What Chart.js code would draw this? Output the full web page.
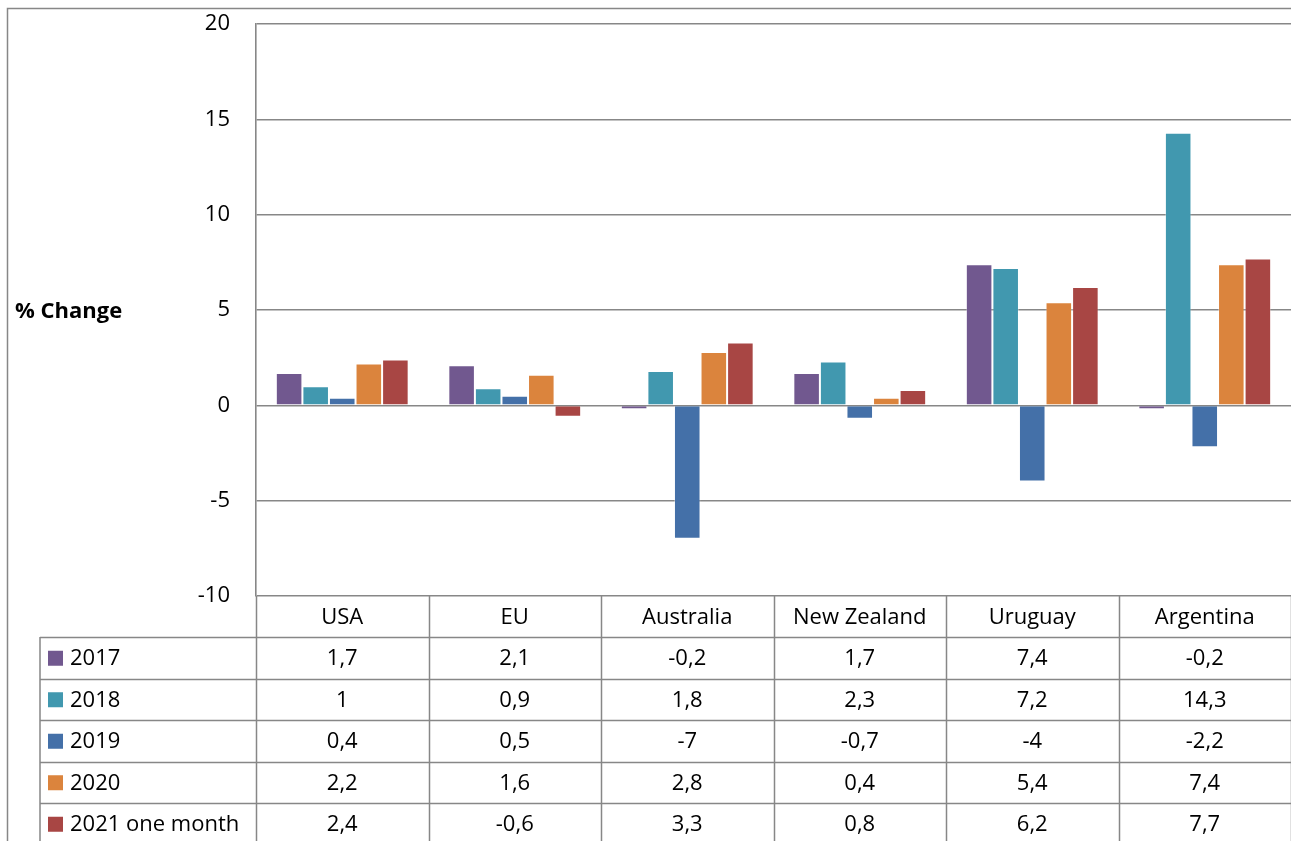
<!DOCTYPE html>
<html>
<head>
<meta charset="utf-8">
<script src="https://cdn.jsdelivr.net/npm/chart.js@4"></script>
<style>
    html, body { margin: 0; padding: 0; background: #fff; }
    #wrap { width: 1291px; height: 841px; overflow: hidden; }
</style>
</head>
<body>
<div id="wrap"><canvas id="chart" width="1291" height="841"></canvas></div>
<script>
// chart data
const categories = ['USA', 'EU', 'Australia', 'New Zealand', 'Uruguay', 'Argentina'];
const seriesNames = ['2017', '2018', '2019', '2020', '2021 one month'];
const values2017 = [1.7, 2.1, -0.2, 1.7, 7.4, -0.2];
const values2018 = [1, 0.9, 1.8, 2.3, 7.2, 14.3];
const values2019 = [0.4, 0.5, -7, -0.7, -4, -2.2];
const values2020 = [2.2, 1.6, 2.8, 0.4, 5.4, 7.4];
const values2021 = [2.4, -0.6, 3.3, 0.8, 6.2, 7.7];
const yTicks = [-10, -5, 0, 5, 10, 15, 20];

const seriesValues = [values2017, values2018, values2019, values2020, values2021];
const seriesColors = ['#71588f', '#4198af', '#4470a8', '#db843d', '#a84644'];

const FONT = '"Open Sans", "Noto Sans", sans-serif';
const FSIZE = 22;
const GRID = '#878787';

// format like the source (decimal comma)
function fmt(v) {
    return String(v).replace('.', ',');
}

// data table + outer frame drawn around the chart
const tablePlugin = {
    id: 'dataTable',
    beforeDraw(c) {
        const ctx = c.ctx;
        ctx.save();
        ctx.fillStyle = '#fff';
        ctx.fillRect(0, 0, c.width, c.height);
        ctx.strokeStyle = GRID;
        ctx.lineWidth = 1.5;
        ctx.strokeRect(7.5, 8.5, c.width + 20, c.height + 20);
        ctx.restore();
    },
    afterDraw(c) {
        const ctx = c.ctx;
        const area = c.chartArea;
        const x = c.scales.x;
        const catW = (area.right - area.left) / categories.length;
        const headTop = area.bottom;
        const rowTop = headTop + 41;
        const rowH = 41.5;
        const tableLeft = 40;

        ctx.save();
        ctx.strokeStyle = GRID;
        ctx.lineWidth = 1.5;

        // vertical lines
        ctx.beginPath();
        ctx.moveTo(tableLeft, rowTop);
        ctx.lineTo(tableLeft, c.height);
        for (let i = 0; i <= categories.length; i++) {
            const bx = Math.round(area.left + i * catW) + 0.5;
            ctx.moveTo(bx, headTop);
            ctx.lineTo(bx, c.height);
        }
        // horizontal lines
        for (let r = 0; r <= seriesNames.length; r++) {
            const y = Math.round(rowTop + r * rowH) + 0.5;
            ctx.moveTo(tableLeft, y);
            ctx.lineTo(c.width, y);
        }
        ctx.stroke();

        ctx.fillStyle = '#000';
        ctx.font = FSIZE + 'px ' + FONT;
        ctx.textBaseline = 'middle';
        ctx.textAlign = 'center';

        // category header
        categories.forEach((cat, i) => {
            ctx.fillText(cat, x.getPixelForValue(i), (headTop + rowTop) / 2 + 1.5);
        });

        // rows
        seriesNames.forEach((name, r) => {
            const cy = rowTop + r * rowH + rowH / 2 + 1;
            ctx.fillStyle = seriesColors[r];
            ctx.fillRect(48, cy - 8, 15, 15);
            ctx.fillStyle = '#000';
            ctx.textAlign = 'left';
            ctx.fillText(name, 70, cy);
            ctx.textAlign = 'center';
            seriesValues[r].forEach((v, i) => {
                ctx.fillText(fmt(v), x.getPixelForValue(i), cy);
            });
        });

        // axis title
        ctx.font = 'bold ' + FSIZE + 'px ' + FONT;
        ctx.textAlign = 'left';
        ctx.fillText('% Change', 15, 312);
        ctx.restore();
    }
};

const chart = new Chart(document.getElementById('chart').getContext('2d'), {
    type: 'bar',
    data: {
        labels: categories,
        datasets: seriesNames.map((name, i) => ({
            label: name,
            data: seriesValues[i],
            backgroundColor: seriesColors[i],
            borderColor: 'rgba(255,255,255,0.35)',
            borderWidth: 1,
            categoryPercentage: 0.77,
            barPercentage: 1
        }))
    },
    options: {
        responsive: false,
        animation: false,
        layout: { padding: { top: 24, left: 0, right: 0, bottom: 0 } },
        plugins: {
            legend: { display: false },
            tooltip: { enabled: false }
        },
        scales: {
            x: {
                ticks: { display: false },
                grid: { display: false },
                border: { display: false },
                afterFit: (s) => { s.height = 245; }
            },
            y: {
                min: yTicks[0],
                max: yTicks[yTicks.length - 1],
                afterBuildTicks: (s) => { s.ticks = yTicks.map(v => ({ value: v })); },
                ticks: {
                    color: '#000',
                    font: { family: FONT, size: FSIZE },
                    padding: 26
                },
                grid: { color: GRID, lineWidth: 1.6, drawTicks: false },
                border: { color: GRID, width: 1.6 },
                afterFit: (s) => {
                    s.width = 256;
                    s.paddingTop = 0;
                    s.paddingBottom = 0;
                }
            }
        }
    },
    plugins: [tablePlugin]
});
</script>
</body>
</html>
